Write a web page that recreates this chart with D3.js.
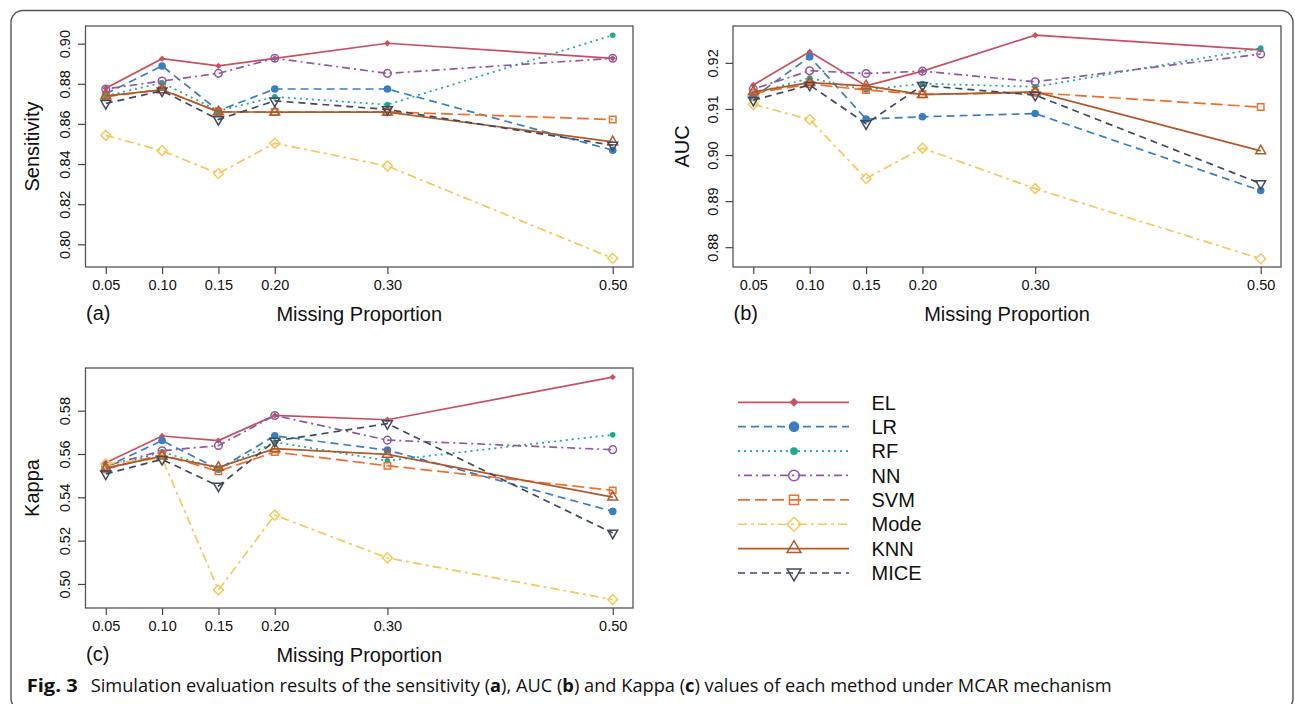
<!DOCTYPE html>
<html>
<head>
<meta charset="utf-8">
<script src="https://cdn.jsdelivr.net/npm/d3@7"></script>
<style>
  body { margin: 0; background: #fff; }
  svg { display: block; }
</style>
</head>
<body>
<svg id="fig" width="1295" height="704"></svg>
<script>
// missing proportions on the x axis
var proportions = [0.05, 0.10, 0.15, 0.20, 0.30, 0.50];
var methods = ["EL", "LR", "RF", "NN", "SVM", "Mode", "KNN", "MICE"];

// one row per method, same order as methods
var sensitivity = [
  [0.8778, 0.8925, 0.8889, 0.8927, 0.9002, 0.8927],
  [0.8750, 0.8889, 0.8666, 0.8774, 0.8774, 0.8469],
  [0.8739, 0.8805, 0.8665, 0.8735, 0.8696, 0.9042],
  [0.8774, 0.8814, 0.8852, 0.8927, 0.8852, 0.8927],
  [0.8735, 0.8772, 0.8660, 0.8659, 0.8660, 0.8622],
  [0.8543, 0.8466, 0.8353, 0.8504, 0.8390, 0.7930],
  [0.8740, 0.8770, 0.8660, 0.8659, 0.8659, 0.8511],
  [0.8702, 0.8765, 0.8622, 0.8715, 0.8672, 0.8494]
];
var auc = [
  [0.9152, 0.9224, 0.9150, 0.9182, 0.9260, 0.9228],
  [0.9125, 0.9213, 0.9078, 0.9083, 0.9090, 0.8923],
  [0.9133, 0.9167, 0.9141, 0.9155, 0.9148, 0.9232],
  [0.9143, 0.9183, 0.9177, 0.9182, 0.9159, 0.9219],
  [0.9134, 0.9154, 0.9141, 0.9132, 0.9135, 0.9104],
  [0.9110, 0.9077, 0.8949, 0.9015, 0.8927, 0.8775],
  [0.9137, 0.9157, 0.9150, 0.9131, 0.9137, 0.9009],
  [0.9119, 0.9152, 0.9068, 0.9151, 0.9130, 0.8938]
];
var kappa = [
  [0.5560, 0.5683, 0.5662, 0.5778, 0.5758, 0.5955],
  [0.5540, 0.5662, 0.5530, 0.5684, 0.5618, 0.5335],
  [0.5532, 0.5610, 0.5530, 0.5655, 0.5569, 0.5689],
  [0.5545, 0.5615, 0.5639, 0.5778, 0.5664, 0.5620],
  [0.5530, 0.5597, 0.5520, 0.5609, 0.5546, 0.5432],
  [0.5555, 0.5580, 0.4972, 0.5318, 0.5120, 0.4928],
  [0.5535, 0.5590, 0.5538, 0.5625, 0.5598, 0.5401],
  [0.5508, 0.5575, 0.5452, 0.5660, 0.5740, 0.5235]
];

var sensTicks = [0.80, 0.82, 0.84, 0.86, 0.88, 0.90];
var aucTicks = [0.88, 0.89, 0.90, 0.91, 0.92];
var kappaTicks = [0.50, 0.52, 0.54, 0.56, 0.58];

// axis ranges (R style, data range padded by 4%)
var xRange = [0.032, 0.518];
var sensRange = [0.7887, 0.9088];
var aucRange = [0.8757, 0.9280];
var kappaRange = [0.4889, 0.5997];

// look of each method: colour, dash, point shape
var styles = [
  {color: "#c9505e", dash: null,          shape: "diamondFill"},
  {color: "#3a7ec1", dash: "8,5",         shape: "dot"},
  {color: "#1ea894", dash: "2,4",         shape: "dotSmall"},
  {color: "#8c5ba3", dash: "2,4,8,4",     shape: "ring"},
  {color: "#f26d2b", dash: "12,5",        shape: "square"},
  {color: "#f6c85c", dash: "9,4,3,4",     shape: "diamond"},
  {color: "#b0592b", dash: null,          shape: "triUp"},
  {color: "#3f4a5e", dash: "7,5",         shape: "triDown"}
];

var font = "'Liberation Sans', Arial, Helvetica, sans-serif";
var ink = "#111";
var svg = d3.select("#fig");

// outer frame
svg.append("rect")
  .attr("x", 11).attr("y", 10.5)
  .attr("width", 1282).attr("height", 700)
  .attr("rx", 12)
  .attr("fill", "none")
  .attr("stroke", "#555")
  .attr("stroke-width", 1.4);

var panels = [
  {tag: "(a)", title: "Sensitivity", values: sensitivity, ticks: sensTicks, yRange: sensRange,
   left: 85.5, right: 633, top: 26, bottom: 267, titleX: 38.5},
  {tag: "(b)", title: "AUC", values: auc, ticks: aucTicks, yRange: aucRange,
   left: 733, right: 1281, top: 26, bottom: 267, titleX: 688.5},
  {tag: "(c)", title: "Kappa", values: kappa, ticks: kappaTicks, yRange: kappaRange,
   left: 85.5, right: 633, top: 368, bottom: 608, titleX: 38.5}
];

// draws the point symbol for one method, k scales it up for the legend
function drawMarker(g, st, k) {
  var c = st.color;
  if (st.shape === "dot" || st.shape === "dotSmall" || st.shape === "ring") {
    var r = st.shape === "dotSmall" ? 2.8 : 3.8;
    g.append("circle")
      .attr("r", r * k)
      .attr("fill", st.shape === "ring" ? "none" : c)
      .attr("stroke", st.shape === "ring" ? c : "none")
      .attr("stroke-width", 1.5);
    return;
  }
  var type = d3.symbolSquare, size = 42, rot = 0, filled = false;
  if (st.shape === "diamondFill") { size = 20; rot = 45; filled = true; }
  if (st.shape === "diamond") { size = 50; rot = 45; }
  if (st.shape === "triUp") { type = d3.symbolTriangle; size = 42; }
  if (st.shape === "triDown") { type = d3.symbolTriangle; size = 42; rot = 180; }
  g.append("path")
    .attr("d", d3.symbol().type(type).size(size * k * k)())
    .attr("transform", "rotate(" + rot + ")")
    .attr("fill", filled ? c : "none")
    .attr("stroke", filled ? "none" : c)
    .attr("stroke-width", 1.5);
}

panels.forEach(function(p) {
  var x = d3.scaleLinear().domain(xRange).range([p.left, p.right]);
  var y = d3.scaleLinear().domain(p.yRange).range([p.bottom, p.top]);
  var g = svg.append("g");

  // x axis
  var xa = g.append("g")
    .attr("transform", "translate(0," + p.bottom + ")")
    .call(d3.axisBottom(x).tickValues(proportions).tickFormat(d3.format(".2f"))
      .tickSize(7).tickPadding(6));
  xa.select(".domain").remove();
  xa.selectAll("line").attr("stroke", "#444").attr("stroke-width", 1.2);
  xa.selectAll("text").attr("font-family", font).attr("font-size", 14.5).attr("fill", ink);

  // y axis, labels turned like R's las=0
  var ya = g.append("g")
    .attr("transform", "translate(" + p.left + ",0)")
    .call(d3.axisLeft(y).tickValues(p.ticks).tickFormat(d3.format(".2f")).tickSize(7.5));
  ya.select(".domain").remove();
  ya.selectAll("line").attr("stroke", "#444").attr("stroke-width", 1.2);
  ya.selectAll("text")
    .attr("x", 0).attr("dy", null).attr("y", 0)
    .attr("text-anchor", "middle")
    .attr("transform", "translate(-15.5,0) rotate(-90)")
    .attr("font-family", font).attr("font-size", 14.5).attr("fill", ink);

  // series
  p.values.forEach(function(row, m) {
    var st = styles[m];
    var pts = row.map(function(v, i) { return [proportions[i], v]; });
    g.append("path")
      .datum(pts)
      .attr("d", d3.line().x(function(d) { return x(d[0]); }).y(function(d) { return y(d[1]); }))
      .attr("fill", "none")
      .attr("stroke", st.color)
      .attr("stroke-width", 1.7)
      .attr("stroke-dasharray", st.dash);
    g.selectAll(null)
      .data(pts)
      .enter().append("g")
      .attr("transform", function(d) { return "translate(" + x(d[0]) + "," + y(d[1]) + ")"; })
      .each(function() { drawMarker(d3.select(this), st, 1); });
  });

  // box
  g.append("rect")
    .attr("x", p.left).attr("y", p.top)
    .attr("width", p.right - p.left).attr("height", p.bottom - p.top)
    .attr("fill", "none").attr("stroke", "#555").attr("stroke-width", 1.3);

  // titles
  g.append("text")
    .attr("x", p.left + 0.5).attr("y", p.bottom + 53)
    .attr("font-family", font).attr("font-size", 20).attr("fill", ink)
    .text(p.tag);
  g.append("text")
    .attr("x", (p.left + p.right) / 2).attr("y", p.bottom + 53.5)
    .attr("text-anchor", "middle")
    .attr("font-family", font).attr("font-size", 20).attr("fill", ink)
    .text("Missing Proportion");
  g.append("text")
    .attr("transform", "translate(" + p.titleX + "," + ((p.top + p.bottom) / 2) + ") rotate(-90)")
    .attr("text-anchor", "middle")
    .attr("font-family", font).attr("font-size", 20).attr("fill", ink)
    .text(p.title);
});

// legend
var legendRow = d3.scaleLinear().domain([0, methods.length - 1]).range([402.3, 573]);
var legend = svg.append("g");
methods.forEach(function(name, m) {
  var st = styles[m];
  var ly = legendRow(m);
  legend.append("line")
    .attr("x1", 738).attr("x2", 849).attr("y1", ly).attr("y2", ly)
    .attr("stroke", st.color).attr("stroke-width", 1.7)
    .attr("stroke-dasharray", st.dash);
  var mk = legend.append("g").attr("transform", "translate(794," + ly + ")");
  drawMarker(mk, st, 1.4);
  legend.append("text")
    .attr("x", 871.5).attr("y", ly).attr("dy", "0.36em")
    .attr("font-family", font).attr("font-size", 20).attr("fill", ink)
    .text(name);
});

// caption
var capFont = "'Open Sans', 'Noto Sans', sans-serif";
svg.append("text")
  .attr("x", 26.7).attr("y", 691.7)
  .attr("font-family", capFont).attr("font-size", 17.5).attr("font-weight", "bold")
  .attr("textLength", 51).attr("lengthAdjust", "spacingAndGlyphs")
  .attr("fill", ink)
  .text("Fig. 3");
var cap = svg.append("text")
  .attr("x", 90.7).attr("y", 691.7)
  .attr("font-family", capFont).attr("font-size", 17.5)
  .attr("textLength", 1021).attr("lengthAdjust", "spacingAndGlyphs")
  .attr("fill", ink);
var parts = [["Simulation evaluation results of the sensitivity (", false], ["a", true], ["), AUC (", false],
  ["b", true], [") and Kappa (", false], ["c", true], [") values of each method under MCAR mechanism", false]];
parts.forEach(function(t) {
  cap.append("tspan").attr("font-weight", t[1] ? "bold" : null).text(t[0]);
});
</script>
</body>
</html>
